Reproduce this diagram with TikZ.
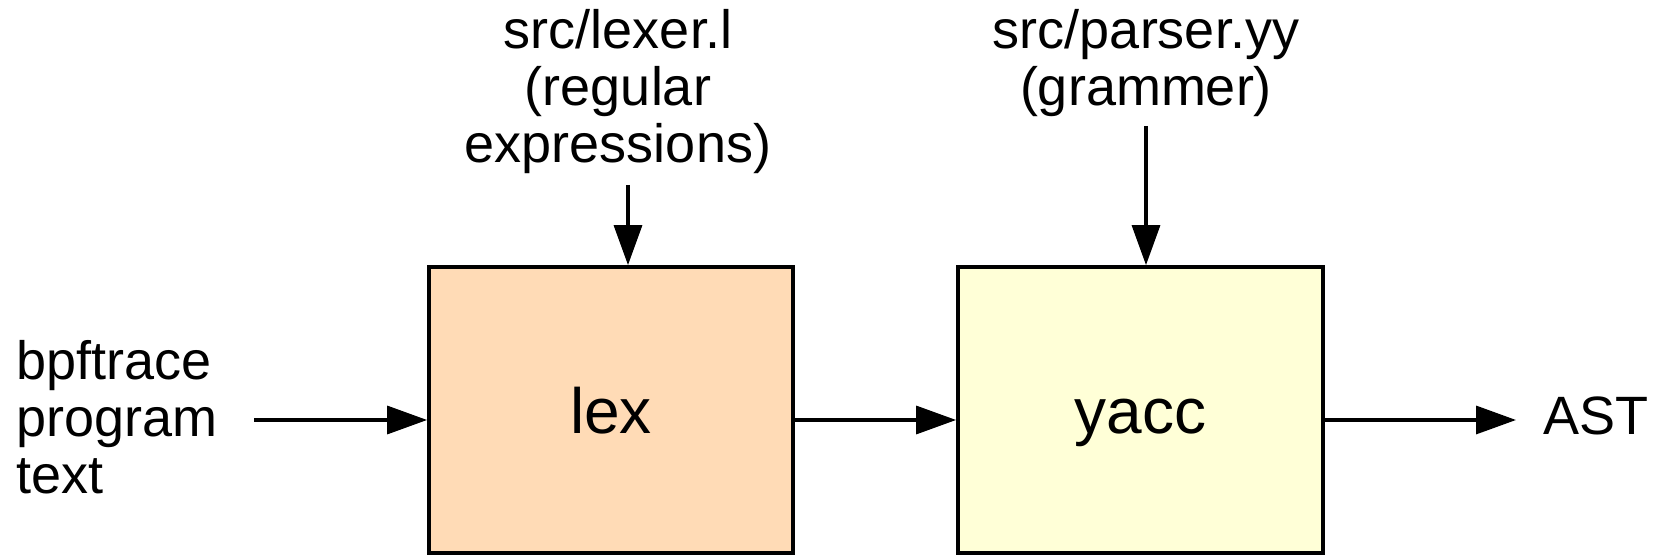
\documentclass[tikz,border=0pt]{standalone}
\usepackage{fontspec}
\setmainfont{Liberation Sans}
\usetikzlibrary{arrows.meta}
\definecolor{lexfill}{HTML}{FFDBB6}
\definecolor{yaccfill}{HTML}{FFFFD7}
\tikzset{
    box/.style={draw, line width=1.9pt, inner sep=0pt, font=\fontsize{32}{38}\selectfont,
        text height=23.3pt, text depth=0pt},
    lbl/.style={inner sep=0pt, font=\fontsize{27}{28.5}\selectfont},
    arr/.style={line width=1.7pt, -{Triangle[length=20pt,width=14pt]}}
}
\begin{document}
\begin{tikzpicture}[x=0.5pt, y=-0.5pt]
        \useasboundingbox (0,0) rectangle (1656,555);

        % the two stages
        \node[box, fill=lexfill, minimum width=182pt, minimum height=143pt] (lex) at (611,410) {lex};
        \node[box, fill=yaccfill, minimum width=182.5pt, minimum height=143pt] (yacc) at (1140.5,410) {yacc};

        % texts round them (base = last line)
        \node[lbl, align=center, anchor=base] (lexsrc) at (618,163) {src/lexer.l\\(regular\\expressions)};
        \node[lbl, align=center, anchor=base] (yaccsrc) at (1146,106) {src/parser.yy\\(grammer)};
        \node[lbl, align=left, anchor=base west] (prog) at (16,494) {bpftrace\\program\\text};
        \node[lbl, anchor=base west] (ast) at (1543,435) {AST};

        \coordinate (lexin) at (628,185);
        \coordinate (yaccin) at (1146,126);
        \coordinate (progout) at (254,420);

        \draw[arr] (lexin) -- (lexin |- lex.north);
        \draw[arr] (yaccin) -- (yaccin |- yacc.north);
        \draw[arr] (progout) -- (progout -| lex.west);
        \draw[arr] (progout -| lex.east) -- (progout -| yacc.west);
        \draw[arr] (progout -| yacc.east) -- ([xshift=-13.5pt]progout -| ast.west);
    \end{tikzpicture}
\end{document}
